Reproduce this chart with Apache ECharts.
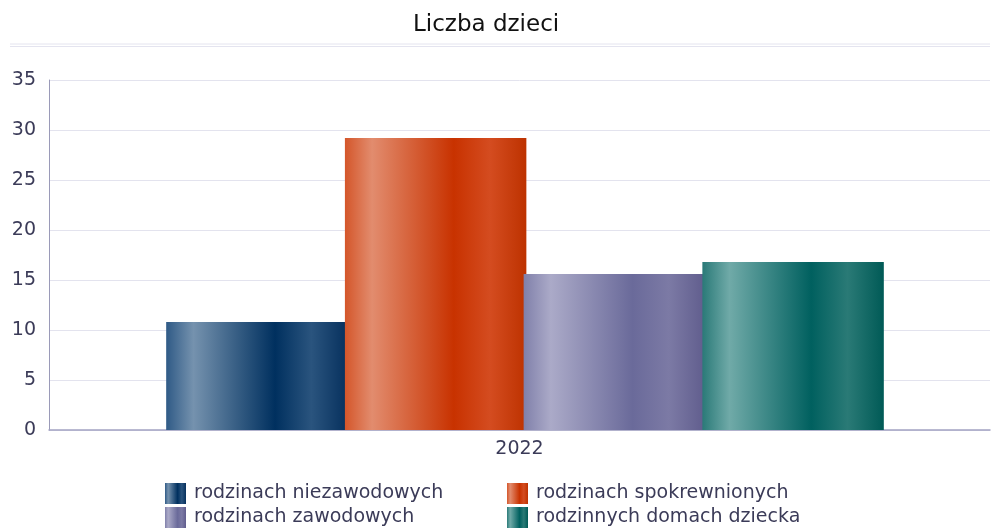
<!DOCTYPE html>
<html>
<head>
<meta charset="utf-8">
<script src="https://cdn.jsdelivr.net/npm/echarts@6/dist/echarts.min.js"></script>
<style>
html, body { margin: 0; padding: 0; background: #fff; }
#chart { width: 991px; height: 531px; }
</style>
</head>
<body>
<div id="chart"></div>
<script>
const categories = ['2022'];
const seriesNames = ['rodzinach niezawodowych', 'rodzinach spokrewnionych', 'rodzinach zawodowych', 'rodzinnych domach dziecka'];
const niezawodowe = [10.8];
const spokrewnione = [29.2];
const zawodowe = [15.6];
const domyDziecka = [16.8];
const yTicks = [0, 5, 10, 15, 20, 25, 30, 35];

// kolory gradientu: baza, jasny, ciemny, sredni, koniec
const palettes = [
    ['#2f5a86', '#7592ae', '#00305f', '#2a547e', '#06305d'],
    ['#d4562a', '#e28c6e', '#c83200', '#d44c20', '#bd3200'],
    ['#8080aa', '#abaac8', '#6a6a9a', '#7c7aa5', '#605d8d'],
    ['#2a7a78', '#70aaa8', '#00605f', '#2a7a76', '#005a56']
];

let grad = (p) => new echarts.graphic.LinearGradient(0, 0, 1, 0, [
    { offset: 0, color: p[0] },
    { offset: 0.15, color: p[1] },
    { offset: 0.6, color: p[2] },
    { offset: 0.8, color: p[3] },
    { offset: 1, color: p[4] }
]);

const values = [niezawodowe, spokrewnione, zawodowe, domyDziecka];
const font = 'DejaVu Sans';
const textColor = '#3b3b58';

let legendAt = (names, left) => ({
    orient: 'vertical',
    left: left,
    top: 483,
    padding: 0,
    height: 60,
    itemWidth: 21,
    itemHeight: 21,
    itemGap: 3,
    icon: 'rect',
    data: names,
    textStyle: { fontFamily: font, fontSize: 19, lineHeight: 21, color: textColor, padding: [0, 0, 0, 3] }
});

let chart = echarts.init(document.getElementById('chart'));
chart.setOption({
    animation: false,
    title: {
        text: 'Liczba dzieci',
        left: 408,
        top: 9,
        textStyle: { fontFamily: font, fontSize: 23, fontWeight: 'normal', color: '#111' }
    },
    graphic: [
        { type: 'line', shape: { x1: 10, y1: 44, x2: 990, y2: 44 }, style: { stroke: '#e4e4ef', lineWidth: 1 } },
        { type: 'line', shape: { x1: 10, y1: 46.5, x2: 990, y2: 46.5 }, style: { stroke: '#e4e4ef', lineWidth: 1 } }
    ],
    legend: [
        legendAt([seriesNames[0], seriesNames[2]], 165),
        legendAt([seriesNames[1], seriesNames[3]], 507)
    ],
    // grid 0: widoczne osie, grid 1: slupki (lekko przesuniete w prawo jak w oryginale)
    grid: [
        { left: 49, right: 1, top: 80, bottom: 101 },
        { left: 59, right: 0, top: 80, bottom: 101 }
    ],
    xAxis: [{
        type: 'category',
        gridIndex: 0,
        data: categories,
        axisTick: { show: false },
        axisLine: { lineStyle: { color: '#a3a3c2', width: 1.5 } },
        axisLabel: { fontFamily: font, fontSize: 19, color: textColor, margin: 10 }
    }, {
        type: 'category',
        gridIndex: 1,
        data: categories,
        show: false
    }],
    yAxis: [{
        type: 'value',
        gridIndex: 0,
        min: yTicks[0],
        max: yTicks[yTicks.length - 1],
        interval: 5,
        axisLine: { show: true, lineStyle: { color: '#9a9ab8' } },
        axisTick: { show: false },
        axisLabel: { fontFamily: font, fontSize: 19, color: textColor, margin: 13 },
        splitLine: { lineStyle: { color: '#e3e3ee' } }
    }, {
        type: 'value',
        gridIndex: 1,
        min: yTicks[0],
        max: yTicks[yTicks.length - 1],
        interval: 5,
        show: false
    }],
    series: seriesNames.map((name, i) => ({
        type: 'bar',
        name: name,
        xAxisIndex: 1,
        yAxisIndex: 1,
        data: values[i],
        barGap: '-1.5%',
        barCategoryGap: '23%',
        itemStyle: { color: grad(palettes[i]) }
    }))
});
</script>
</body>
</html>
